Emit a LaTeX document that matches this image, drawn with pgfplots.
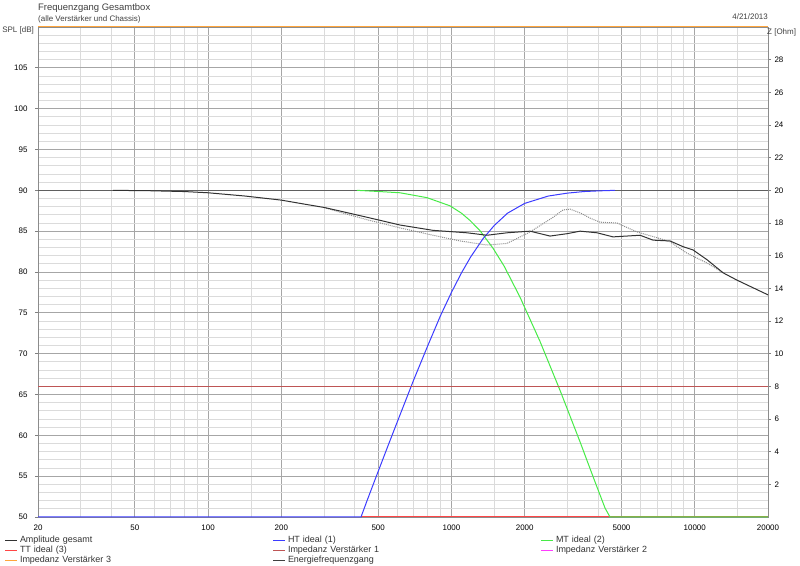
\documentclass[border=0pt]{standalone}
\usepackage{fontspec}
\setmainfont{Liberation Sans}
\usepackage{pgfplots}
\pgfplotsset{compat=1.18}
\definecolor{htblue}{RGB}{60,60,255}
\definecolor{mtgreen}{RGB}{70,235,70}
\definecolor{ttred}{RGB}{255,70,70}
\definecolor{impone}{RGB}{190,85,85}
\definecolor{imptwo}{RGB}{255,60,255}
\definecolor{impthree}{RGB}{255,165,60}
\definecolor{ampl}{RGB}{50,50,50}
\definecolor{energie}{RGB}{95,95,95}
\begin{document}
\begin{tikzpicture}[x=1bp,y=1bp,font=\fontsize{8}{9.6}\selectfont]
\path[use as bounding box] (0,0) rectangle (800,566);
\begin{axis}[
  at={(38bp,49bp)}, anchor=south west,
  scale only axis, width=730bp, height=490bp,
  xmode=log, xmin=20, xmax=20000, ymin=50, ymax=110,
  xtick={20,50,100,200,500,1000,2000,5000,10000,20000},
  xticklabels={20,50,100,200,500,1000,2000,5000,10000,20000},
  minor xtick={30,40,60,70,80,90,150,300,400,600,700,800,900,1500,3000,4000,6000,7000,8000,9000,15000},
  ytick={50,55,...,105},
  minor ytick={51,52,...,109},
  grid=both,
  major grid style={draw=black!35, line width=0.8bp},
  minor grid style={draw=black!14, line width=0.8bp},
  axis line style={draw=black!45, line width=0.8bp},
  xtick pos=bottom, ytick pos=left,
  xtick style={draw=none}, minor tick length=0pt,
  ytick style={draw=black!50, line width=0.8bp},
  major tick length=3bp, tick align=outside,
  ticklabel style={font=\fontsize{8}{9.6}\selectfont},
  /pgf/number format/assume math mode=true,
  xticklabel style={yshift=-1bp},
  yticklabel style={xshift=-4bp},
  clip=false,
  legend columns=3,
  legend cell align=left,
  legend image code/.code={\path[draw=none,fill=none] (0bp,-3bp) rectangle (20bp,3bp); \draw[#1, line width=1bp] (5bp,0bp) -- (17bp,0bp);},
  legend style={at={(-0.05205,-0.0385)}, anchor=north west, draw=none, fill=none, inner sep=0pt, outer sep=0pt, row sep=1.5bp, column sep=0pt,
    font=\fontsize{9}{10}\selectfont,
    nodes={inner sep=0pt, text width=248bp, text height=6.5bp, text depth=2bp, align=left, text=black!80}},
]
% legend images
\addlegendimage{ampl}
\addlegendentry{Amplitude gesamt}
\addlegendimage{htblue}
\addlegendentry{HT ideal (1)}
\addlegendimage{mtgreen}
\addlegendentry{MT ideal (2)}
\addlegendimage{ttred}
\addlegendentry{TT ideal (3)}
\addlegendimage{impone}
\addlegendentry{Impedanz Verstärker 1}
\addlegendimage{imptwo}
\addlegendentry{Impedanz Verstärker 2}
\addlegendimage{impthree}
\addlegendentry{Impedanz Verstärker 3}
\addlegendimage{black!75}
\addlegendentry{Energiefrequenzgang}
% Energiefrequenzgang
\addplot[energie, line width=1bp, forget plot] coordinates {(20,90) (20000,90)};
% TT ideal
\addplot[ttred, line width=1bp, forget plot] coordinates {(425,50) (20000,50)};
% MT ideal
\addplot[mtgreen, line width=1bp, forget plot] coordinates {
(409,90) (500,89.86) (615,89.7) (794,89.1) (987,88.1) (1100,87.2) (1193,86.3) (1311,85.05)
(1483,82.9) (1648,80.7) (1915,76.9) (2312,71.5) (2795,65.5) (3377,59.2) (3892,54.3)
(4277,51.1) (4483,50) (20000,50)};
% HT ideal
\addplot[htblue, line width=1bp, forget plot] coordinates {
(20,50) (425,50) (450,52.0) (490,54.9) (550,58.8) (600,61.7) (700,66.8) (800,71.0)
(900,74.6) (1000,77.5) (1100,79.9) (1200,81.85) (1350,84.1) (1500,85.7) (1700,87.2)
(2000,88.4) (2500,89.3) (3000,89.66) (3500,89.85) (4000,89.93) (4700,90)};
% dotted gray curve
\addplot[black!45, densely dotted, line width=1bp, forget plot] coordinates {
(300,87.9) (350,87.3) (450,86.4) (615,85.4) (840,84.5) (1085,83.8) (1400,83.3) (1692,83.5)
(2104,84.9) (2616,86.7) (2876,87.6) (3072,87.7) (3400,87.2) (3712,86.6) (4078,86.1)
(4792,86.0) (5790,84.9) (6998,84.2) (7914,83.7) (9294,82.3) (11232,81.1) (13070,79.9)};
% Amplitude gesamt
\addplot[ampl, line width=1bp, forget plot] coordinates {
(40.7,90) (57.7,89.95) (80,89.85) (100,89.7) (142,89.3) (200,88.8) (250,88.3) (300,87.9)
(350,87.45) (450,86.7) (615,85.75) (840,85.1) (1159,84.8) (1400,84.5) (1692,84.8)
(2104,85.0) (2542,84.4) (3000,84.7) (3377,85.0) (3966,84.8) (4614,84.3) (5958,84.5)
(6738,83.9) (7914,83.8) (8950,83.1) (9836,82.7) (11232,81.5) (13070,79.9) (14918,79.0)
(20000,77.2)};
\end{axis}
\begin{axis}[
  at={(38bp,49bp)}, anchor=south west,
  scale only axis, width=730bp, height=490bp,
  xmode=log, xmin=20, xmax=20000, ymin=0, ymax=30,
  axis x line=none, axis y line*=right,
  ytick={2,4,...,28},
  axis line style={draw=black!45, line width=0.8bp},
  ytick style={draw=black!50, line width=0.8bp},
  major tick length=3bp, tick align=outside, minor tick length=0pt,
  ticklabel style={font=\fontsize{8}{9.6}\selectfont},
  /pgf/number format/assume math mode=true,
  yticklabel style={xshift=0bp},
  clip=false,
]
\addplot[imptwo, line width=1bp] coordinates {(20,8) (20000,8)};
\addplot[impone, line width=1bp] coordinates {(20,8) (20000,8)};
\addplot[impthree, line width=1bp] coordinates {(20,30) (20000,30)};
\end{axis}
\node[anchor=west, inner sep=0pt, font=\fontsize{9.5}{11}\selectfont, text=black!75] at (38,558) {Frequenzgang Gesamtbox};
\node[anchor=west, inner sep=0pt, font=\fontsize{8}{9.6}\selectfont, text=black!75] at (38,547) {(alle Verstärker und Chassis)};
\node[anchor=east, inner sep=0pt, text=black!75] at (768,549) {4/21/2013};
\node[anchor=east, inner sep=0pt, text=black!75] at (34,536) {SPL [dB]};
\node[anchor=west, inner sep=0pt, text=black!75] at (767,534) {Z [Ohm]};
\end{tikzpicture}
\end{document}
